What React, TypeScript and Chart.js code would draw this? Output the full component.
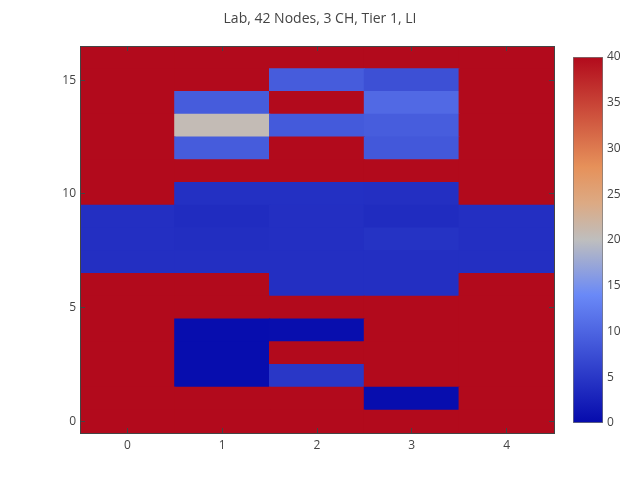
import React, { useEffect, useRef } from "react";
import { Chart, registerables } from "chart.js";

Chart.register(...registerables);

// ---- data ----
const titleText = "Lab, 42 Nodes, 3 CH, Tier 1, LI";
const xCategories = ["0", "1", "2", "3", "4"];
const yRows = [0, 1, 2, 3, 4, 5, 6, 7, 8, 9, 10, 11, 12, 13, 14, 15, 16];
const yTickValues = [0, 5, 10, 15];
const colorbarTicks = [0, 5, 10, 15, 20, 25, 30, 35, 40];
const zMin = 0;
const zMax = 40;

const row00 = [40, 40, 40, 40, 40];
const row01 = [40, 40, 40, 0.3, 40];
const row02 = [40, 0.3, 5, 40, 40];
const row03 = [40, 0.3, 40, 40, 40];
const row04 = [40, 0.3, 0.4, 40, 40];
const row05 = [40, 40, 40, 40, 40];
const row06 = [40, 40, 4.1, 4.1, 40];
const row07 = [4.1, 4.1, 4.1, 4.1, 4.1];
const row08 = [4.1, 4.0, 4.1, 4.5, 4.1];
const row09 = [4.1, 3.8, 4.1, 3.8, 4.1];
const row10 = [40, 4.2, 4.2, 4.1, 40];
const row11 = [40, 40, 40, 40, 40];
const row12 = [40, 9, 40, 8.6, 40];
const row13 = [40, 20.6, 8.8, 9.1, 40];
const row14 = [40, 9, 40, 10.5, 40];
const row15 = [40, 40, 9, 7.7, 40];
const row16 = [40, 40, 40, 40, 40];

const zRows = [row00, row01, row02, row03, row04, row05, row06, row07, row08, row09, row10, row11, row12, row13, row14, row15, row16];

// ---- colorscale (RdBu, low = blue) ----
const colorStops: [number, number[]][] = [
  [0, [5, 10, 172]],
  [0.35, [106, 137, 247]],
  [0.5, [190, 190, 190]],
  [0.6, [220, 170, 132]],
  [0.7, [230, 145, 90]],
  [1, [178, 10, 28]],
];

function colorAt(t: number): string {
  const tt = Math.min(1, Math.max(0, t));
  for (let i = 1; i < colorStops.length; i++) {
    const [t1, c1] = colorStops[i];
    const [t0, c0] = colorStops[i - 1];
    if (tt <= t1) {
      const f = (tt - t0) / (t1 - t0);
      const c = c0.map((v, j) => Math.round(v + (c1[j] - v) * f));
      return `rgb(${c[0]},${c[1]},${c[2]})`;
    }
  }
  const c = colorStops[colorStops.length - 1][1];
  return `rgb(${c[0]},${c[1]},${c[2]})`;
}

function colorFor(v: number): string {
  return colorAt((v - zMin) / (zMax - zMin));
}

const FONT = "'Open Sans', 'Noto Sans', sans-serif";
const AX = "#444";

export default function App() {
  const mainRef = useRef<HTMLCanvasElement | null>(null);
  const barRef = useRef<HTMLCanvasElement | null>(null);

  useEffect(() => {
    document.body.style.margin = "0";
    const datasets = zRows.map((row, k) => ({
      data: row.map(() => [yRows[k] - 0.5, yRows[k] + 0.5]),
      backgroundColor: row.map(colorFor),
      borderWidth: 0,
      inflateAmount: 0.6,
      grouped: false,
      barPercentage: 1,
      categoryPercentage: 1,
    }));

    const setY = (scale: any) => {
      scale.ticks = yTickValues.map((v) => ({ value: v }));
    };

    const main = new Chart(mainRef.current!, {
      type: "bar",
      data: { labels: xCategories, datasets: datasets as any },
      options: {
        animation: false,
        responsive: false,
        devicePixelRatio: 1,
        layout: { padding: { left: 0, right: 0, top: 0, bottom: 0 } },
        plugins: {
          legend: { display: false },
          tooltip: { enabled: false },
          title: {
            display: true,
            text: titleText,
            color: AX,
            font: { family: FONT, size: 14, weight: "normal" },
            padding: { top: 10.6, bottom: 18.6 },
          },
        },
        scales: {
          x: {
            type: "category",
            position: "bottom",
            offset: true,
            grid: { display: true, drawOnChartArea: false, offset: false, tickLength: -5, color: AX, z: 1 },
            border: { display: true, color: AX, width: 1, z: 1 },
            ticks: { color: AX, font: { family: FONT, size: 12 }, padding: 10, maxRotation: 0 },
            afterFit: (s: any) => { s.height = 47; },
          },
          x2: {
            type: "category",
            labels: xCategories,
            position: "top",
            offset: true,
            grid: { display: true, drawOnChartArea: false, offset: false, tickLength: -5, color: AX, z: 1 },
            border: { display: true, color: AX, width: 1, z: 1 },
            ticks: { display: false },
            afterFit: (s: any) => { s.height = 0; },
          },
          y: {
            type: "linear",
            position: "left",
            min: -0.5,
            max: 16.5,
            afterBuildTicks: setY,
            grid: { display: true, drawOnChartArea: false, tickLength: -5, color: AX, z: 1 },
            border: { display: true, color: AX, width: 1, z: 1 },
            ticks: { color: AX, font: { family: FONT, size: 12 }, padding: 9 },
            afterFit: (s: any) => { s.width = 80; },
          },
          y2: {
            type: "linear",
            position: "right",
            min: -0.5,
            max: 16.5,
            afterBuildTicks: setY,
            grid: { display: true, drawOnChartArea: false, tickLength: -5, color: AX, z: 1 },
            border: { display: true, color: AX, width: 1, z: 1 },
            ticks: { display: false },
            afterFit: (s: any) => { s.width = 86; },
          },
        },
      } as any,
    });

    const cbar = new Chart(barRef.current!, {
      type: "bar",
      data: {
        labels: ["z"],
        datasets: [
          {
            data: [[zMin, zMax]] as any,
            backgroundColor: (ctx: any) => {
              const chart = ctx.chart;
              const ys = chart.scales && chart.scales.y;
              if (!chart.chartArea || !ys) return colorFor(zMax);
              const g = chart.ctx.createLinearGradient(0, ys.getPixelForValue(zMin), 0, ys.getPixelForValue(zMax));
              colorStops.forEach(([t]) => g.addColorStop(t, colorAt(t)));
              return g;
            },
            borderColor: "#777",
            borderWidth: 1,
            borderSkipped: false,
            barPercentage: 1,
            categoryPercentage: 1,
          },
        ],
      },
      options: {
        animation: false,
        responsive: false,
        devicePixelRatio: 1,
        layout: { padding: { left: 13, right: 0, top: 17, bottom: 17 } },
        plugins: { legend: { display: false }, tooltip: { enabled: false }, title: { display: false } },
        scales: {
          x: { display: false, offset: true },
          y: {
            type: "linear",
            position: "right",
            min: zMin,
            max: zMax,
            afterBuildTicks: (s: any) => { s.ticks = colorbarTicks.map((v) => ({ value: v })); },
            grid: { display: false, drawTicks: false },
            border: { display: false },
            ticks: { color: AX, font: { family: FONT, size: 12 }, padding: 4 },
            afterFit: (s: any) => { s.width = 37; },
          },
        },
      } as any,
    });

    return () => {
      main.destroy();
      cbar.destroy();
    };
  }, []);

  return (
    <div style={{ position: "fixed", left: 0, top: 0, width: 640, height: 480, background: "#fff" }}>
      <canvas ref={mainRef} width={640} height={480} style={{ position: "absolute", left: 0, top: 0, width: 640, height: 480 }} />
      <canvas ref={barRef} width={80} height={400} style={{ position: "absolute", left: 560, top: 40, width: 80, height: 400 }} />
    </div>
  );
}
